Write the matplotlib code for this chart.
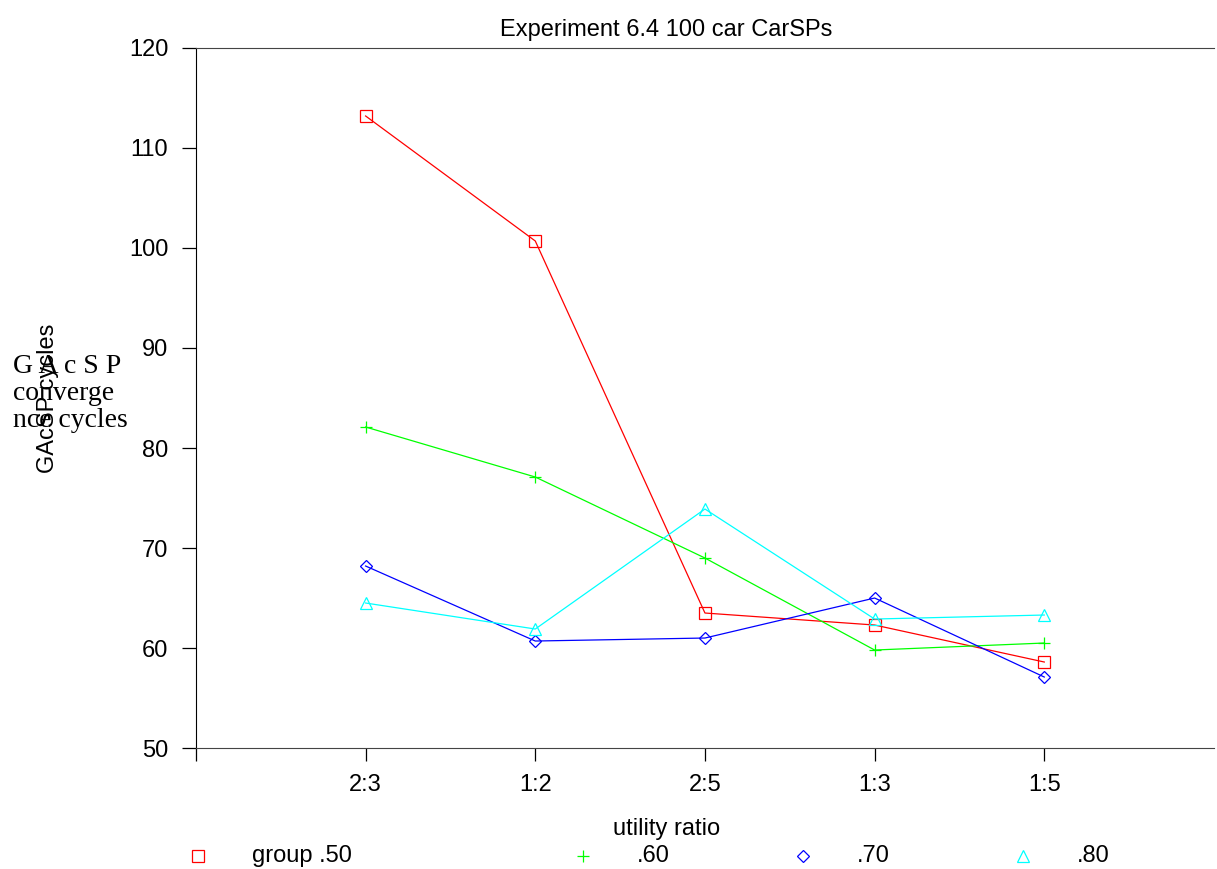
import matplotlib
matplotlib.use("Agg")
import matplotlib.pyplot as plt

ratios = ["2:3", "1:2", "2:5", "1:3", "1:5"]
group_50 = [113.2, 100.7, 63.5, 62.3, 58.6]
group_60 = [82.1, 77.1, 69.0, 59.8, 60.5]
group_70 = [68.2, 60.7, 61.0, 65.0, 57.1]
group_80 = [64.5, 61.9, 73.9, 62.9, 63.3]

series = [
    (group_50, "group .50", "#ff0000", "s"),
    (group_60, ".60", "#00ff00", "+"),
    (group_70, ".70", "#0000ff", "D"),
    (group_80, ".80", "#00ffff", "^"),
]

plt.rcParams['font.family'] = ['Liberation Sans', 'DejaVu Sans']

fig = plt.figure(figsize=(12.17, 8.69), dpi=100)
ax = fig.add_axes([0.161, 0.1392, 0.8365, 0.8056])

xs = list(range(1, len(ratios) + 1))
for vals, name, col, mk in series:
    ms = 6.5 if mk == "D" else 8.5
    ax.plot(xs, vals, color=col, lw=0.9, marker=mk, ms=ms,
            mfc='none', mec=col, mew=0.9)

ax.set_xlim(0, 6)
ax.set_ylim(50, 120)
ax.set_xticks([0] + xs)
ax.set_xticklabels([""] + ratios)
ax.set_yticks(range(50, 121, 10))
ax.spines['right'].set_visible(False)
ax.spines['top'].set_color('#444444')
ax.spines['bottom'].set_color('#444444')
ax.tick_params(axis='x', direction='out', length=9, width=0.9, labelsize=17, pad=10)
ax.tick_params(axis='y', direction='out', length=10, width=0.9, labelsize=17, pad=10)
ax.set_ylabel("GAcSP cycles", fontsize=17, labelpad=0)
ax.yaxis.set_label_coords(-0.135, 0.5)

fig.text(0.547, 0.965, "Experiment 6.4 100 car CarSPs", ha='center', va='center', fontsize=17)
fig.text(0.548, 0.046, "utility ratio", ha='center', va='center', fontsize=17)
fig.text(0.011, 0.547, "G A c S P\nconverge\nnce cycles", ha='left', va='center',
         fontsize=20, family=['Liberation Serif', 'DejaVu Serif'], linespacing=1.12)

# legend drawn along the bottom
leg = fig.add_axes([0, 0, 1, 1], facecolor='none')
leg.set_xlim(0, 1217)
leg.set_ylim(869, 0)
leg.axis('off')
leg_x = [198, 583, 803, 1023]
for (vals, name, col, mk), lx in zip(series, leg_x):
    ms = 6.5 if mk == "D" else 8.5
    leg.plot([lx], [856], marker=mk, ms=ms, mfc='none', mec=col, mew=0.9, ls='none')
    leg.text(lx + 54, 856, name, ha='left', va='center', fontsize=17)

fig.savefig("out.png", dpi=100)
